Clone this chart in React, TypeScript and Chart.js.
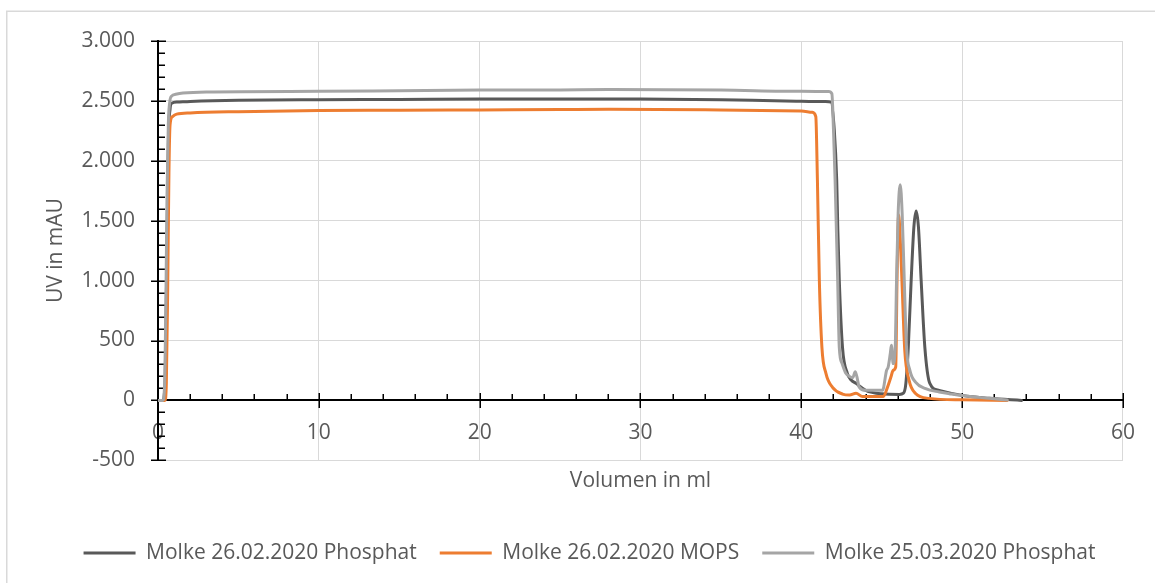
import React, { useEffect, useRef } from "react";
import { Chart, registerables } from "chart.js";

Chart.register(...registerables);

const seriesLabels = [
  "Molke 26.02.2020 Phosphat",
  "Molke 26.02.2020 MOPS",
  "Molke 25.03.2020 Phosphat",
];
const seriesColors = ["#595959", "#ED7D31", "#A5A5A5"];

const xTitle = "Volumen in ml";
const yTitle = "UV in mAU";

// Series 1: Molke 26.02.2020 Phosphat
const darkX = [0, 0.3, 0.45, 0.55, 0.65, 0.75, 0.85, 1.2, 2, 5, 10, 15, 20, 25, 30, 35, 39, 41.5, 41.85, 42.05, 42.2, 42.27, 42.36, 42.56, 42.86, 43.1, 43.4, 44.0, 45.0, 46.1, 46.35, 46.5, 46.65, 46.83, 47.0, 47.14, 47.28, 47.45, 47.68, 47.99, 48.57, 50, 51.7, 53.7];
const darkY = [0, 0, 200, 1200, 2200, 2430, 2480, 2490, 2495, 2505, 2510, 2512, 2515, 2515, 2515, 2510, 2500, 2495, 2490, 2257, 1839, 1421, 1003, 443, 226, 170, 142, 84, 55, 50, 60, 142, 443, 1003, 1450, 1580, 1450, 1003, 443, 142, 84, 42, 17, 0];

// Series 2: Molke 26.02.2020 MOPS
const orangeX = [0, 0.43, 0.52, 0.6, 0.68, 0.75, 0.9, 1.16, 2, 5, 10, 15, 20, 25, 28, 35, 40, 40.68, 40.9, 41.0, 41.12, 41.28, 41.53, 41.94, 42.56, 43.0, 43.4, 43.8, 45.1, 45.36, 45.57, 45.71, 45.87, 45.95, 46.05, 46.15, 46.27, 46.43, 46.7, 47.1, 47.95, 50, 52.8];
const orangeY = [0, 0, 150, 900, 1900, 2300, 2369, 2390, 2400, 2410, 2420, 2422, 2425, 2428, 2430, 2425, 2415, 2405, 2369, 1839, 1003, 443, 226, 109, 53, 45, 60, 33, 33, 111, 195, 251, 279, 1003, 1550, 1350, 950, 420, 167, 58, 17, 5, 0];

// Series 3: Molke 25.03.2020 Phosphat
const grayX = [0, 0.3, 0.4, 0.48, 0.56, 0.64, 0.72, 0.85, 1.1, 1.55, 3, 10, 15, 20, 25, 28, 35, 40, 41.7, 41.9, 42.0, 42.1, 42.18, 42.26, 42.36, 42.53, 42.77, 43.0, 43.2, 43.35, 43.45, 43.6, 44.0, 45.05, 45.3, 45.4, 45.53, 45.6, 45.71, 45.84, 45.92, 46.02, 46.15, 46.27, 46.4, 46.54, 46.75, 47.1, 47.73, 48.57, 49.2, 50.0, 51.7, 52.8];
const grayY = [0, 0, 100, 700, 1700, 2300, 2480, 2540, 2555, 2565, 2575, 2580, 2585, 2590, 2592, 2595, 2590, 2580, 2578, 2560, 2257, 1839, 1421, 1003, 443, 310, 226, 200, 190, 240, 200, 111, 84, 84, 251, 279, 390, 460, 307, 446, 1003, 1560, 1800, 1560, 1003, 446, 251, 153, 98, 70, 56, 40, 17, 3];

const xMin = 0, xMax = 60, xStep = 10, xMinorStep = 2;
const yMin = -500, yMax = 3000, yStep = 500, yMinorStep = 100;

const FONT = "'Open Sans', sans-serif";
const TEXT = "#595959";

const fmt = (v: number) => {
  const s = Math.abs(v).toString().replace(/\B(?=(\d{3})+(?!\d))/g, ".");
  return (v < 0 ? "-" : "") + s;
};

const toPts = (xs: number[], ys: number[]) => xs.map((x, i) => ({ x, y: ys[i] }));

const decor = {
  id: "decor",
  beforeDraw(chart: any) {
    const ctx = chart.ctx;
    ctx.save();
    ctx.strokeStyle = "#d9d9d9";
    ctx.lineWidth = 1.5;
    ctx.strokeRect(6.75, 11.25, 1300, 700);
    ctx.restore();
  },
  beforeDatasetsDraw(chart: any) {
    const ctx = chart.ctx;
    const xs = chart.scales.x;
    const ys = chart.scales.y;
    const x0 = Math.round(xs.getPixelForValue(0));
    const y0 = Math.round(ys.getPixelForValue(0));
    ctx.save();
    ctx.strokeStyle = "#000";
    ctx.lineWidth = 1.5;
    ctx.beginPath();
    for (let v = yMin; v <= yMax; v += yMinorStep) {
      const p = Math.round(ys.getPixelForValue(v)) + 0.25;
      if (v % yStep === 0) {
        ctx.moveTo(x0 - 7, p);
        ctx.lineTo(x0 + 8, p);
      } else {
        ctx.moveTo(x0, p);
        ctx.lineTo(x0 + 7, p);
      }
    }
    for (let v = xMin; v <= xMax; v += xMinorStep) {
      const p = Math.round(xs.getPixelForValue(v)) + 0.25;
      if (v % xStep === 0) {
        ctx.moveTo(p, y0 - 7);
        ctx.lineTo(p, y0 + 8);
      } else {
        ctx.moveTo(p, y0 - 6);
        ctx.lineTo(p, y0);
      }
    }
    ctx.stroke();
    ctx.restore();
  },
};

export default function App() {
  const ref = useRef<HTMLCanvasElement>(null);
  useEffect(() => {
    document.body.style.margin = "0";
    const xsArr = [darkX, orangeX, grayX];
    const ysArr = [darkY, orangeY, grayY];
    const chart = new Chart(ref.current as HTMLCanvasElement, {
      type: "line",
      data: {
        datasets: seriesLabels.map((label, i) => ({
          label,
          data: toPts(xsArr[i], ysArr[i]),
          borderColor: seriesColors[i],
          backgroundColor: seriesColors[i],
          borderWidth: 3,
          pointRadius: 0,
          cubicInterpolationMode: "monotone" as const,
          borderJoinStyle: "round" as const,
          borderCapStyle: "round" as const,
          order: 3 - i,
        })),
      },
      options: {
        animation: false,
        responsive: false,
        layout: { padding: { left: 55, right: 31, top: 41, bottom: 9.5 } },
        plugins: {
          tooltip: { enabled: false },
          legend: {
            position: "bottom",
            labels: {
              boxWidth: 52,
              boxHeight: 3,
              padding: 23,
              color: TEXT,
              font: { family: FONT, size: 21 },
              sort: (a: any, b: any) => a.datasetIndex - b.datasetIndex,
              generateLabels: (c: any) =>
                (Chart.defaults.plugins.legend.labels.generateLabels as any)(c).map((l: any) => ({
                  ...l,
                  lineWidth: 0,
                })),
            },
          },
        },
        scales: {
          x: {
            type: "linear",
            position: { y: 0 } as any,
            min: xMin,
            max: xMax,
            ticks: { stepSize: xStep, padding: 20, color: TEXT, font: { family: FONT, size: 21 }, maxRotation: 0 },
            grid: { color: "#d9d9d9", lineWidth: 1, drawTicks: false },
            border: { color: "#000", width: 2 },
          },
          x2: {
            type: "linear",
            position: "bottom",
            min: xMin,
            max: xMax,
            ticks: { display: false },
            grid: { display: false, drawTicks: false },
            border: { display: false },
            title: {
              display: true,
              text: xTitle,
              color: TEXT,
              font: { family: FONT, size: 21 },
              padding: { top: 8, bottom: 26 },
            },
          },
          y: {
            type: "linear",
            position: "left",
            min: yMin,
            max: yMax,
            ticks: { stepSize: yStep, padding: 23, color: TEXT, font: { family: FONT, size: 21 }, callback: (v: any) => fmt(Number(v)) },
            grid: { color: "#d9d9d9", lineWidth: 1, drawTicks: false },
            border: { color: "#000", width: 2 },
            title: {
              display: true,
              text: yTitle,
              color: TEXT,
              font: { family: FONT, size: 21 },
              padding: { top: -11.6, bottom: 0 },
            },
            afterFit: (s: any) => {
              s.width = 103;
            },
          },
        },
      } as any,
      plugins: [decor],
    });
    return () => chart.destroy();
  }, []);
  return (
    <div style={{ width: 1155, height: 583, background: "#fff" }}>
      <canvas ref={ref} width={1155} height={583} style={{ display: "block" }} />
    </div>
  );
}
